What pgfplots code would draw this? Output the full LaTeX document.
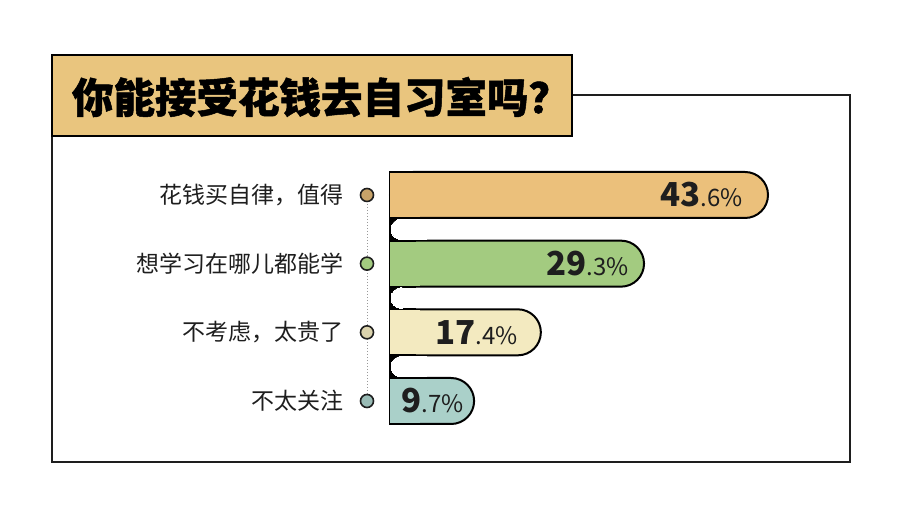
\documentclass[border=0pt]{standalone}
\usepackage{fontspec}
\setmainfont{Noto Sans CJK SC}
\usepackage{pgfplots}
\usepackage{pgfplotstable}
\pgfplotsset{compat=1.18}

\definecolor{titlebg}{HTML}{E9C57E}
\definecolor{cA}{HTML}{EBC07B}
\definecolor{cB}{HTML}{A3CB80}
\definecolor{cC}{HTML}{F3EAC0}
\definecolor{cD}{HTML}{AAD0C9}
\definecolor{ink}{HTML}{1E1E1E}

% big whole part, small decimals
\newcommand{\valtxt}[2]{{\fontsize{33}{33}\selectfont\bfseries #1}{\fontsize{24}{24}\selectfont .#2\%}}

\pgfplotstableread{
y val lab dx
4 43.6 \valtxt{43}{6} -25
3 29.3 \valtxt{29}{3} -15
2 17.4 \valtxt{17}{4} -23
1 9.7 \valtxt{9}{7} -10
}\vals

\pgfplotsset{
  rbar/.style={xbar, bar width=46pt, fill=#1, draw=black, line width=2pt, rounded corners=23pt},
  lcover/.style={black, line width=48pt},
  lfill/.style={#1, line width=44pt},
  dot/.style={only marks, mark=*, mark size=6.5pt,
    mark options={fill=#1, draw=ink, line width=1.6pt, xshift=-23pt}},
}

\begin{document}
\begin{tikzpicture}
\path[use as bounding box, fill=white] (0,0) rectangle (900pt,514pt);
\draw[line width=2pt, ink] (52pt,52pt) rectangle (850pt,419pt);
\filldraw[fill=titlebg, draw=black, line width=2.5pt] (52pt,378pt) rectangle (572pt,459pt);
\node[font=\fontsize{41.5}{43}\selectfont\bfseries\addfontfeature{FakeBold=1.2}, text=black] at (321pt,417pt) {你能接受花钱去自习室吗？};

\begin{axis}[
  at={(390pt,89pt)}, anchor=south west,
  x=8.67pt, y=68.67pt,
  xmin=0, xmax=50, ymin=0.6505, ymax=4.3495,
  clip=false,
  axis lines*=left,
  x axis line style={draw=none},
  y axis line style={line width=2pt, black},
  xtick=\empty,
  ytick={1,2,3,4},
  yticklabels={不太关注, 不考虑，太贵了, 想学习在哪儿都能学, 花钱买自律，值得},
  major tick length=0pt,
  yticklabel style={font=\fontsize{23}{27}\selectfont, text=ink, anchor=east, inner sep=0pt, xshift=-46pt},
]
% bars with a round right end
\addplot[rbar=cA] coordinates {(43.6,4)};
\addplot[rbar=cB] coordinates {(29.3,3)};
\addplot[rbar=cC] coordinates {(17.4,2)};
\addplot[rbar=cD] coordinates {(9.7,1)};
% square off the left ends
\addplot[lcover] coordinates {(0,4) (3,4)};
\addplot[lfill=cA] coordinates {(0,4) (3.5,4)};
\addplot[lcover] coordinates {(0,3) (3,3)};
\addplot[lfill=cB] coordinates {(0,3) (3.5,3)};
\addplot[lcover] coordinates {(0,2) (3,2)};
\addplot[lfill=cC] coordinates {(0,2) (3.5,2)};
\addplot[lcover] coordinates {(0,1) (3,1)};
\addplot[lfill=cD] coordinates {(0,1) (3.5,1)};

% rounded slots between bars
\addplot[black, line width=20.67pt] coordinates {(0,3.5) (1.4,3.5)};
\addplot[black, line width=20.67pt] coordinates {(0,2.5) (1.4,2.5)};
\addplot[black, line width=20.67pt] coordinates {(0,1.5) (1.4,1.5)};
\addplot[only marks, mark=*, mark size=10.3pt, mark options={line width=0pt, draw=white, fill=white, xshift=11.33pt}]
  coordinates {(0,3.5) (0,2.5) (0,1.5)};
\addplot[white, line width=20.5pt, xshift=11.33pt] coordinates {(0,3.5) (3,3.5)};
\addplot[white, line width=20.5pt, xshift=11.33pt] coordinates {(0,2.5) (3,2.5)};
\addplot[white, line width=20.5pt, xshift=11.33pt] coordinates {(0,1.5) (3,1.5)};

% guide dots
\addplot[black!40, dotted, line width=1pt, xshift=-23pt] coordinates {(0,4) (0,1)};
\addplot[dot=cA!85!black] coordinates {(0,4)};
\addplot[dot=cB] coordinates {(0,3)};
\addplot[dot=cC!90!black] coordinates {(0,2)};
\addplot[dot=cD!90!black] coordinates {(0,1)};

% value labels
\addplot[draw=none, mark=none, point meta=explicit symbolic,
  visualization depends on={\thisrow{dx}\as\vdx},
  nodes near coords,
  every node near coord/.append style={anchor=east, inner sep=0pt, text=ink, xshift=\vdx pt},
] table[x=val, y=y, meta=lab] {\vals};
\end{axis}
\end{tikzpicture}
\end{document}
